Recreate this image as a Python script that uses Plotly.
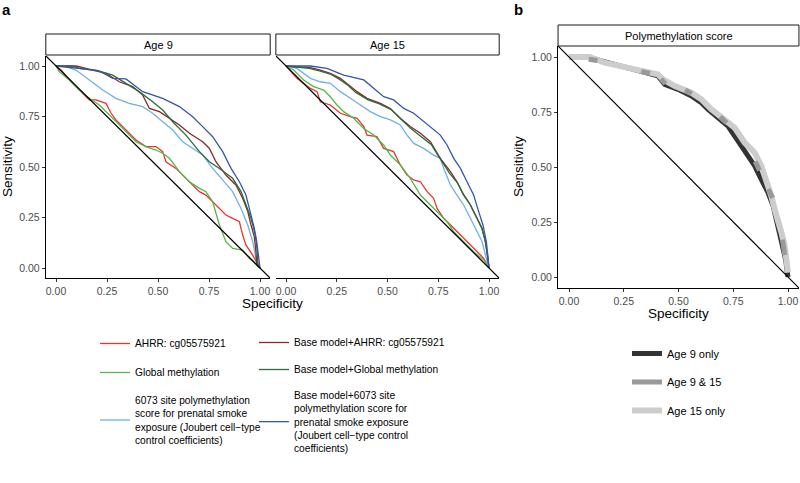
import plotly.graph_objects as go

W, H = 800, 483

# ---------------- data: panel a, Age 9 ----------------
A9_AHRR_SPEC = [0, 0.025, 0.082, 0.131, 0.163, 0.196, 0.245, 0.270, 0.294, 0.343, 0.392, 0.441, 0.490, 0.523, 0.539,
                0.588, 0.621, 0.670, 0.703, 0.735, 0.768, 0.801, 0.833, 0.866, 0.899, 0.915, 0.931, 0.964, 1.0]
A9_AHRR_SENS = [1, 0.980, 0.914, 0.865, 0.832, 0.832, 0.815, 0.766, 0.733, 0.683, 0.634, 0.601, 0.601, 0.576, 0.526,
                0.493, 0.460, 0.411, 0.378, 0.361, 0.328, 0.295, 0.262, 0.246, 0.229, 0.163, 0.114, 0.064, 0]
A9_GLOBAL_SPEC = [0, 0.016, 0.065, 0.114, 0.163, 0.212, 0.278, 0.343, 0.392, 0.441, 0.490, 0.523, 0.556, 0.605, 0.654,
                  0.703, 0.735, 0.768, 0.801, 0.833, 0.866, 0.915, 0.948, 1.0]
A9_GLOBAL_SENS = [1, 0.972, 0.931, 0.881, 0.840, 0.807, 0.741, 0.675, 0.625, 0.601, 0.584, 0.568, 0.543, 0.477, 0.427,
                  0.394, 0.378, 0.328, 0.213, 0.130, 0.097, 0.089, 0.048, 0]
A9_PMS_SPEC = [0, 0.049, 0.098, 0.163, 0.229, 0.294, 0.359, 0.425, 0.474, 0.523, 0.572, 0.621, 0.670, 0.719, 0.768,
               0.817, 0.866, 0.907, 0.940, 0.964, 0.980, 1.0]
A9_PMS_SENS = [1, 0.997, 0.980, 0.931, 0.881, 0.840, 0.815, 0.799, 0.766, 0.724, 0.683, 0.625, 0.592, 0.559, 0.493,
               0.436, 0.378, 0.295, 0.213, 0.130, 0.048, 0]
A9_BASE_AHRR_SPEC = [0, 0.098, 0.180, 0.245, 0.310, 0.376, 0.425, 0.458, 0.507, 0.556, 0.605, 0.654, 0.719, 0.752,
                     0.784, 0.833, 0.882, 0.915, 0.940, 0.956, 0.972, 0.980, 0.984, 1.0]
A9_BASE_AHRR_SENS = [1, 1.0, 0.980, 0.964, 0.922, 0.898, 0.856, 0.790, 0.774, 0.741, 0.708, 0.667, 0.625, 0.592,
                     0.526, 0.460, 0.411, 0.345, 0.279, 0.213, 0.155, 0.081, 0.015, 0]
A9_BASE_GLOBAL_SPEC = [0, 0.082, 0.131, 0.196, 0.278, 0.343, 0.408, 0.474, 0.523, 0.572, 0.637, 0.703, 0.752, 0.801,
                       0.866, 0.907, 0.931, 0.956, 0.977, 0.985, 0.990, 1.0]
A9_BASE_GLOBAL_SENS = [1, 0.992, 0.988, 0.980, 0.955, 0.914, 0.873, 0.823, 0.782, 0.724, 0.658, 0.576, 0.526, 0.493,
                       0.444, 0.378, 0.312, 0.246, 0.163, 0.097, 0.015, 0]
A9_BASE_PMS_SPEC = [0, 0.080, 0.114, 0.212, 0.278, 0.343, 0.425, 0.523, 0.605, 0.670, 0.719, 0.768, 0.817, 0.858,
                    0.899, 0.931, 0.956, 0.972, 0.984, 0.992, 1.0]
A9_BASE_PMS_SENS = [1, 1.0, 0.988, 0.975, 0.939, 0.936, 0.873, 0.840, 0.799, 0.749, 0.700, 0.650, 0.576, 0.493,
                    0.427, 0.361, 0.262, 0.196, 0.130, 0.064, 0]

# ---------------- data: panel a, Age 15 ----------------
A15_AHRR_SPEC = [0, 0.054, 0.087, 0.120, 0.153, 0.169, 0.218, 0.268, 0.317, 0.350, 0.383, 0.399, 0.448, 0.481, 0.530,
                 0.563, 0.596, 0.629, 0.662, 0.695, 0.727, 0.744, 0.777, 0.810, 0.842, 0.875, 0.908, 0.941, 0.974, 1.0]
A15_AHRR_SENS = [1, 0.939, 0.914, 0.889, 0.873, 0.823, 0.807, 0.766, 0.749, 0.741, 0.700, 0.658, 0.650, 0.592, 0.576,
                 0.510, 0.460, 0.436, 0.427, 0.378, 0.345, 0.295, 0.246, 0.213, 0.180, 0.147, 0.114, 0.081, 0.048, 0]
A15_GLOBAL_SPEC = [0, 0.038, 0.087, 0.136, 0.186, 0.218, 0.251, 0.284, 0.333, 0.383, 0.432, 0.481, 0.514, 0.563,
                   0.612, 0.662, 0.711, 0.760, 0.793, 0.826, 0.875, 0.924, 0.974, 1.0]
A15_GLOBAL_SENS = [1, 0.980, 0.931, 0.898, 0.881, 0.848, 0.807, 0.774, 0.741, 0.691, 0.658, 0.609, 0.559, 0.510,
                   0.444, 0.361, 0.312, 0.262, 0.229, 0.180, 0.130, 0.081, 0.040, 0]
A15_PMS_SPEC = [0, 0.054, 0.120, 0.169, 0.218, 0.268, 0.317, 0.366, 0.415, 0.465, 0.514, 0.563, 0.596, 0.629, 0.678,
                0.727, 0.760, 0.777, 0.810, 0.842, 0.875, 0.908, 0.941, 0.966, 0.982, 0.993, 1.0]
A15_PMS_SENS = [1, 0.988, 0.939, 0.922, 0.914, 0.873, 0.840, 0.807, 0.774, 0.749, 0.733, 0.708, 0.658, 0.617, 0.592,
                0.559, 0.543, 0.493, 0.411, 0.361, 0.312, 0.246, 0.180, 0.130, 0.064, 0.015, 0]
A15_BASE_AHRR_SPEC = [0, 0.054, 0.120, 0.169, 0.218, 0.268, 0.300, 0.350, 0.399, 0.465, 0.514, 0.563, 0.612, 0.662,
                      0.711, 0.760, 0.810, 0.842, 0.875, 0.908, 0.941, 0.966, 0.982, 0.993, 1.0]
A15_BASE_AHRR_SENS = [1, 0.997, 0.992, 0.980, 0.964, 0.939, 0.914, 0.873, 0.840, 0.815, 0.790, 0.741, 0.700, 0.667,
                      0.625, 0.543, 0.477, 0.427, 0.361, 0.312, 0.246, 0.196, 0.130, 0.064, 0]
A15_BASE_GLOBAL_SPEC = [0, 0.060, 0.115, 0.165, 0.222, 0.262, 0.305, 0.345, 0.405, 0.460, 0.520, 0.568, 0.615, 0.660,
                        0.715, 0.755, 0.805, 0.845, 0.872, 0.905, 0.938, 0.963, 0.980, 0.992, 1.0]
A15_BASE_GLOBAL_SENS = [1, 0.995, 0.988, 0.976, 0.958, 0.935, 0.905, 0.868, 0.832, 0.812, 0.782, 0.735, 0.690, 0.655,
                        0.612, 0.548, 0.470, 0.420, 0.368, 0.318, 0.250, 0.200, 0.140, 0.070, 0]
A15_BASE_PMS_SPEC = [0, 0.054, 0.120, 0.202, 0.284, 0.383, 0.432, 0.481, 0.530, 0.580, 0.629, 0.678, 0.727, 0.760,
                     0.793, 0.826, 0.859, 0.892, 0.924, 0.949, 0.970, 0.987, 0.995, 1.0]
A15_BASE_PMS_SENS = [1, 1.0, 1.0, 0.988, 0.955, 0.931, 0.889, 0.848, 0.832, 0.790, 0.766, 0.724, 0.683, 0.658,
                     0.609, 0.543, 0.493, 0.427, 0.361, 0.279, 0.213, 0.130, 0.048, 0]

# ---------------- data: panel b (polymethylation score) ----------------
B_AGE9_SPEC = [0, 0.087, 0.148, 0.209, 0.269, 0.346, 0.406, 0.437, 0.498, 0.559, 0.604, 0.635, 0.680, 0.726, 0.756,
               0.787, 0.817, 0.848, 0.878, 0.909, 0.932, 0.947, 0.962, 0.977, 0.989, 0.997, 1.0]
B_AGE9_SENS = [1, 1.0, 0.982, 0.967, 0.952, 0.929, 0.914, 0.876, 0.853, 0.823, 0.792, 0.762, 0.724, 0.686, 0.641,
               0.595, 0.550, 0.505, 0.444, 0.383, 0.323, 0.262, 0.202, 0.141, 0.080, 0.020, 0]
B_AGE15_SPEC = [0, 0.094, 0.163, 0.254, 0.330, 0.406, 0.429, 0.483, 0.559, 0.604, 0.650, 0.711, 0.756, 0.802, 0.848,
                0.878, 0.901, 0.924, 0.939, 0.954, 0.970, 0.985, 0.994, 1.0]
B_AGE15_SENS = [1, 1.0, 0.974, 0.952, 0.936, 0.921, 0.898, 0.868, 0.838, 0.808, 0.762, 0.717, 0.679, 0.611, 0.565,
                0.505, 0.444, 0.368, 0.308, 0.262, 0.202, 0.141, 0.080, 0.020]
B_BOTH_SPEC = [0.09, 0.13, None, 0.33, 0.37, None, 0.42, 0.44, None, 0.53, 0.56, None, 0.69, 0.72, None,
               0.85, 0.87, None, 0.91, 0.93, None, 0.975, 0.985]
B_BOTH_SENS = [0.99, 0.984, None, 0.935, 0.925, None, 0.900, 0.878, None, 0.850, 0.832, None, 0.728, 0.700, None,
               0.525, 0.485, None, 0.400, 0.360, None, 0.17, 0.10]

TICK_VALS = [0, 0.25, 0.5, 0.75, 1.0]
TICK_TEXT = ["0.00", "0.25", "0.50", "0.75", "1.00"]
FACETS = ["Age 9", "Age 15"]
SERIES_NAMES = [
    "AHRR: cg05575921",
    "Global methylation",
    "6073 site polymethylation<br>score for prenatal smoke<br>exposure (Joubert cell\u2212type<br>control coefficients)",
    "Base model+AHRR: cg05575921",
    "Base model+Global methylation",
    "Base model+6073 site<br>polymethylation score for<br>prenatal smoke exposure<br>(Joubert cell\u2212type control<br>coefficients)",
]
B_NAMES = ["Age 9 only", "Age 9 & 15", "Age 15 only"]
ABLINE_INTERCEPT, ABLINE_SLOPE = 1.0, -1.0

# ---------------- style ----------------
COLORS = ["#E8362D", "#55B64B", "#6FB1E4", "#8B2A24", "#2B6B3C", "#3656AE"]
LEGENDS = ["legend", "legend", "legend", "legend2", "legend2", "legend2"]
B_COLORS = ["#333333", "#999999", "#CDCDCD"]
FONT = "Liberation Sans, Arial, sans-serif"
XR = [-0.05, 1.05]
YR = [-0.05, 1.05]


def px_x(p):
    return p / W


def px_y(p):
    return 1 - p / H


data_a = [
    [(A9_AHRR_SPEC, A9_AHRR_SENS), (A9_GLOBAL_SPEC, A9_GLOBAL_SENS), (A9_PMS_SPEC, A9_PMS_SENS),
     (A9_BASE_AHRR_SPEC, A9_BASE_AHRR_SENS), (A9_BASE_GLOBAL_SPEC, A9_BASE_GLOBAL_SENS),
     (A9_BASE_PMS_SPEC, A9_BASE_PMS_SENS)],
    [(A15_AHRR_SPEC, A15_AHRR_SENS), (A15_GLOBAL_SPEC, A15_GLOBAL_SENS), (A15_PMS_SPEC, A15_PMS_SENS),
     (A15_BASE_AHRR_SPEC, A15_BASE_AHRR_SENS), (A15_BASE_GLOBAL_SPEC, A15_BASE_GLOBAL_SENS),
     (A15_BASE_PMS_SPEC, A15_BASE_PMS_SENS)],
]

fig = go.Figure()
axes = [("x", "y"), ("x2", "y2")]
for fi, series in enumerate(data_a):
    xa, ya = axes[fi]
    for si, (sx, sy) in enumerate(series):
        fig.add_trace(go.Scatter(
            x=sx, y=sy, mode="lines", name=SERIES_NAMES[si],
            line=dict(color=COLORS[si], width=1.3),
            xaxis=xa, yaxis=ya, legend=LEGENDS[si], legendgroup="g%d" % si,
            showlegend=(fi == 0), hoverinfo="skip"))
    fig.add_trace(go.Scatter(
        x=XR, y=[ABLINE_INTERCEPT + ABLINE_SLOPE * v for v in XR], mode="lines",
        line=dict(color="black", width=1.3), xaxis=xa, yaxis=ya, showlegend=False, hoverinfo="skip"))

# panel b
fig.add_trace(go.Scatter(x=B_AGE9_SPEC, y=B_AGE9_SENS, mode="lines", name=B_NAMES[0],
                         line=dict(color=B_COLORS[0], width=5), xaxis="x3", yaxis="y3",
                         legend="legend3", legendrank=1, legendgroup="b0", hoverinfo="skip"))
fig.add_trace(go.Scatter(x=B_AGE15_SPEC, y=B_AGE15_SENS, mode="lines", name=B_NAMES[2],
                         line=dict(color=B_COLORS[2], width=6), xaxis="x3", yaxis="y3",
                         legend="legend3", legendrank=3, legendgroup="b2", hoverinfo="skip"))
fig.add_trace(go.Scatter(x=B_BOTH_SPEC, y=B_BOTH_SENS, mode="lines", name=B_NAMES[1],
                         line=dict(color=B_COLORS[1], width=5), xaxis="x3", yaxis="y3", connectgaps=False,
                         legend="legend3", legendrank=2, legendgroup="b1", hoverinfo="skip"))
fig.add_trace(go.Scatter(x=XR, y=[ABLINE_INTERCEPT + ABLINE_SLOPE * v for v in XR], mode="lines",
                         line=dict(color="black", width=1.1), xaxis="x3", yaxis="y3",
                         showlegend=False, hoverinfo="skip"))

# axes
dom_a1 = [px_x(45.8), px_x(270.2)]
dom_a2 = [px_x(275.85), px_x(499.2)]
dom_ay = [px_y(278.1), px_y(55.9)]
dom_b = [px_x(558.05), px_x(798.95)]
dom_by = [px_y(288), px_y(46)]

axis_common = dict(range=XR, tickvals=TICK_VALS, ticktext=TICK_TEXT, showgrid=False, zeroline=False,
                   ticks="outside", ticklen=3, tickwidth=1, tickcolor="#333333",
                   tickfont=dict(family=FONT, size=10.5, color="#4D4D4D"),
                   showline=True, linecolor="black", linewidth=1.1, fixedrange=True)

fig.update_layout(
    xaxis=dict(domain=dom_a1, anchor="y", **axis_common),
    yaxis=dict(domain=dom_ay, anchor="x", **axis_common),
    xaxis2=dict(domain=dom_a2, anchor="y2", **axis_common),
    yaxis2=dict(domain=dom_ay, anchor="x2", range=YR, showgrid=False, zeroline=False, showline=False,
                showticklabels=False, ticks="", fixedrange=True),
    xaxis3=dict(domain=dom_b, anchor="y3", **axis_common),
    yaxis3=dict(domain=dom_by, anchor="x3", **axis_common),
)

# strips
shapes = []
annotations = []
strips = [(dom_a1, 34, 55, FACETS[0]), (dom_a2, 34, 55, FACETS[1]), (dom_b, 25, 46, "Polymethylation score")]
for dom, t, b, label in strips:
    shapes.append(dict(type="rect", xref="paper", yref="paper", x0=dom[0], x1=dom[1], y0=px_y(b), y1=px_y(t),
                       line=dict(color="#1A1A1A", width=1), fillcolor="white", layer="above"))
    annotations.append(dict(xref="paper", yref="paper", x=(dom[0] + dom[1]) / 2, y=px_y((t + b) / 2),
                            text=label, showarrow=False, font=dict(family=FONT, size=11, color="black"),
                            xanchor="center", yanchor="middle"))

title_font = dict(family=FONT, size=13.5, color="black")
annotations += [
    dict(xref="paper", yref="paper", x=px_x(8), y=px_y(167), text="Sensitivity", textangle=-90,
         showarrow=False, font=title_font, xanchor="center", yanchor="middle"),
    dict(xref="paper", yref="paper", x=px_x(272.5), y=px_y(303), text="Specificity",
         showarrow=False, font=title_font, xanchor="center", yanchor="middle"),
    dict(xref="paper", yref="paper", x=px_x(519), y=px_y(167), text="Sensitivity", textangle=-90,
         showarrow=False, font=title_font, xanchor="center", yanchor="middle"),
    dict(xref="paper", yref="paper", x=px_x(678.5), y=px_y(313), text="Specificity",
         showarrow=False, font=title_font, xanchor="center", yanchor="middle"),
    dict(xref="paper", yref="paper", x=px_x(6), y=px_y(9), text="<b>a</b>",
         showarrow=False, font=dict(family=FONT, size=15, color="black"), xanchor="center", yanchor="middle"),
    dict(xref="paper", yref="paper", x=px_x(518), y=px_y(9), text="<b>b</b>",
         showarrow=False, font=dict(family=FONT, size=15, color="black"), xanchor="center", yanchor="middle"),
]

legend_common = dict(orientation="v", xanchor="left", yanchor="top", bgcolor="rgba(0,0,0,0)",
                     font=dict(family=FONT, size=10.2, color="black"), itemwidth=30, valign="middle",
                     itemclick=False, itemdoubleclick=False)
fig.update_layout(
    legend=dict(x=px_x(95), y=px_y(329), tracegroupgap=10, **legend_common),
    legend2=dict(x=px_x(254), y=px_y(328), tracegroupgap=8, **legend_common),
    legend3=dict(x=px_x(627), y=px_y(339), tracegroupgap=9.5, **{**legend_common,
                                                                    "font": dict(family=FONT, size=11, color="black")}),
    shapes=shapes,
    annotations=annotations,
    width=W, height=H,
    margin=dict(l=0, r=0, t=0, b=0),
    paper_bgcolor="white", plot_bgcolor="white",
    font=dict(family=FONT),
    showlegend=True,
)

fig.write_html("out.html", config={"displayModeBar": False},
               post_script="document.body.style.margin='0';")
